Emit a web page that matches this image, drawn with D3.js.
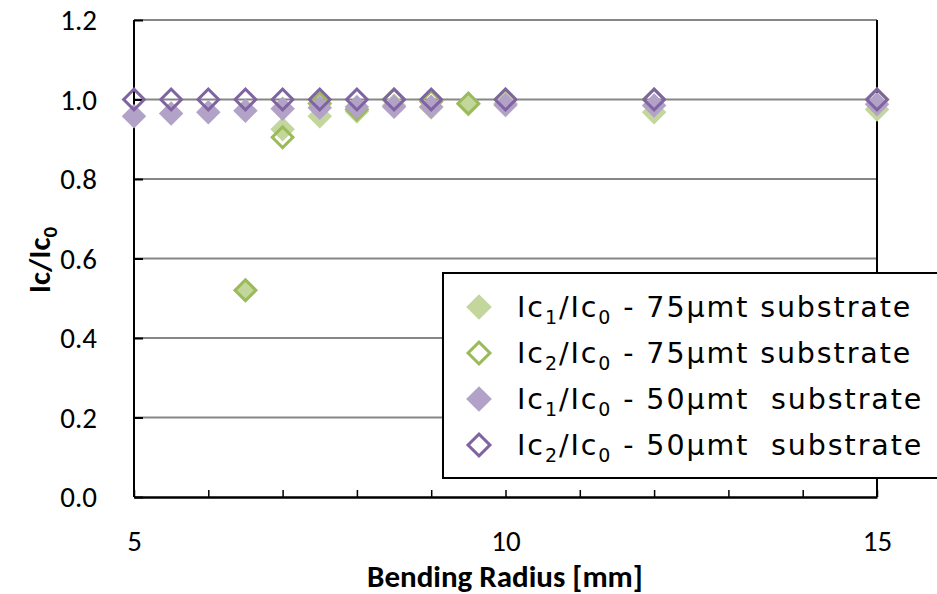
<!DOCTYPE html>
<html><head><meta charset="utf-8">
<script src="https://cdn.jsdelivr.net/npm/d3@7"></script>
<style>
html,body{margin:0;padding:0;background:#fff;}
svg{display:block;}
text{white-space:pre;}
</style></head>
<body>
<svg id="c" width="937" height="594"></svg>
<script>
// ---- data ----
const xTickLabels = [5, 10, 15];
const xMinorTicks = [5,6,7,8,9,10,11,12,13,14,15];
const yTicks = [0, 0.2, 0.4, 0.6, 0.8, 1.0, 1.2];

const x75 = [6.5, 7, 7.5, 8, 8.5, 9, 9.5, 10, 12, 15];
const ic1_75 = [0.52, 0.925, 0.958, 0.97, 0.985, 0.98, 0.988, 0.99, 0.968, 0.975];
const ic2_75 = [0.52, 0.905, 0.99, 0.975, 1.0, 0.995, 0.99, 1.0, 1.0, 1.0];

const x50 = [5, 5.5, 6, 6.5, 7, 7.5, 8, 8.5, 9, 10, 12, 15];
const ic1_50 = [0.958, 0.965, 0.968, 0.972, 0.977, 0.979, 0.981, 0.982, 0.982, 0.986, 0.985, 0.988];
const ic2_50 = [1.0, 1.0, 1.0, 1.0, 1.0, 1.0, 1.0, 1.0, 1.0, 1.0, 1.0, 1.0];

const seriesNames = [
  {sub1:"1", rest:" - 75µmt substrate"},
  {sub1:"2", rest:" - 75µmt substrate"},
  {sub1:"1", rest:" - 50µmt  substrate"},
  {sub1:"2", rest:" - 50µmt  substrate"}
];

const green = "#9bbb59", greenFill = "#c3d69b";
const purple = "#8064a2", purpleFill = "#b3a2c7";

const series = [
  {xs: x75, ys: ic1_75, filled: true,  fill: greenFill, stroke: greenFill},
  {xs: x75, ys: ic2_75, filled: false, fill: "none",    stroke: green},
  {xs: x50, ys: ic1_50, filled: true,  fill: purpleFill, stroke: purpleFill},
  {xs: x50, ys: ic2_50, filled: false, fill: "none",    stroke: purple}
];

// ---- layout ----
const svg = d3.select("#c");
const L = 134, R = 877, T = 20, B = 497;
const x = d3.scaleLinear().domain([5, 15]).range([L, R]);
const y = d3.scaleLinear().domain([0, 1.2]).range([B, T]);

const tickFont = "Carlito";
const legendFont = "DejaVu Sans";

// gridlines
svg.append("g").selectAll("line").data(yTicks.filter(d => d > 0)).join("line")
  .attr("x1", L).attr("x2", R)
  .attr("y1", d => y(d)).attr("y2", d => y(d))
  .attr("stroke", "#868686").attr("stroke-width", 2);

// frame lines (left, right)
svg.append("line").attr("x1", L).attr("x2", L).attr("y1", T).attr("y2", B).attr("stroke", "#000").attr("stroke-width", 2);
svg.append("line").attr("x1", R).attr("x2", R).attr("y1", T).attr("y2", B).attr("stroke", "#000").attr("stroke-width", 2);

// y axis
const yAxis = d3.axisLeft(y).tickValues(yTicks).tickFormat(d3.format(".1f")).tickSizeInner(-9).tickSizeOuter(0).tickPadding(37);
const gy = svg.append("g").attr("transform", `translate(${L},0)`).call(yAxis);
gy.select(".domain").remove();
gy.selectAll(".tick line").attr("stroke", "#000").attr("stroke-width", 2);
gy.selectAll(".tick text").attr("font-family", tickFont).attr("font-size", 29).attr("fill", "#000").attr("dy", "0.34em");

// x axis
const xAxis = d3.axisBottom(x).tickValues(xMinorTicks).tickFormat(d => xTickLabels.includes(d) ? d : "").tickSizeInner(-7).tickSizeOuter(0).tickPadding(33);
const gx = svg.append("g").attr("transform", `translate(0,${B})`).call(xAxis);
gx.select(".domain").attr("stroke", "#000").attr("stroke-width", 2.5);
gx.selectAll(".tick line").attr("stroke", "#000").attr("stroke-width", 1.5);
gx.selectAll(".tick text").attr("font-family", tickFont).attr("font-size", 29).attr("fill", "#000");

// axis titles
svg.append("text").attr("x", 505).attr("y", 587).attr("text-anchor", "middle")
  .attr("font-family", tickFont).attr("font-weight", "bold").attr("font-size", 31).text("Bending Radius [mm]");

const yt = svg.append("text").attr("transform", "translate(50,260) rotate(-90)").attr("text-anchor", "middle")
  .attr("font-family", tickFont).attr("font-weight", "bold").attr("font-size", 31);
yt.append("tspan").text("Ic/Ic");
yt.append("tspan").attr("font-size", 21).attr("dy", 7).text("0");

// markers
const diamond = (area) => d3.symbol(d3.symbolSquare, area)();
series.forEach(s => {
  const pts = s.xs.map((xv, i) => [xv, s.ys[i]]);
  svg.append("g").selectAll("path").data(pts).join("path")
    .attr("d", s.filled ? diamond(300) : diamond(215))
    .attr("transform", d => `translate(${x(d[0])},${y(d[1])}) rotate(45)`)
    .attr("fill", s.fill)
    .attr("stroke", s.filled ? "none" : s.stroke)
    .attr("stroke-width", 3);
});

// legend
const lg = svg.append("g");
lg.append("rect").attr("x", 443).attr("y", 273).attr("width", 510).attr("height", 205)
  .attr("fill", "#fff").attr("stroke", "#000").attr("stroke-width", 2);
const rowY = [307, 353, 399, 445];
series.forEach((s, i) => {
  lg.append("path")
    .attr("d", s.filled ? diamond(330) : diamond(240))
    .attr("transform", `translate(479,${rowY[i]}) rotate(45)`)
    .attr("fill", s.fill)
    .attr("stroke", s.filled ? "none" : s.stroke)
    .attr("stroke-width", 3);
  const t = lg.append("text").attr("x", 517).attr("y", rowY[i] + 10)
    .attr("font-family", legendFont).attr("font-size", 28.5).attr("letter-spacing", "1.9px").attr("fill", "#000");
  t.append("tspan").text("Ic");
  t.append("tspan").attr("font-size", 19).attr("dy", 7).text(seriesNames[i].sub1);
  t.append("tspan").attr("dy", -7).text("/Ic");
  t.append("tspan").attr("font-size", 19).attr("dy", 7).text("0");
  t.append("tspan").attr("dy", -7).text(seriesNames[i].rest);
});
</script>
</body></html>
